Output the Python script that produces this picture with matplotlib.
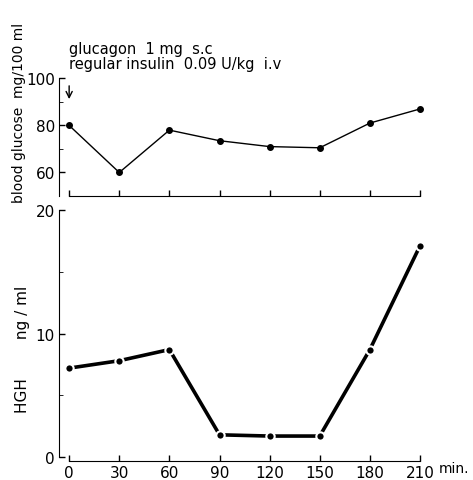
import matplotlib.pyplot as plt

minutes = [0, 30, 60, 90, 120, 150, 180, 210]
glucose = [80, 60, 78, 73.5, 71, 70.5, 81, 87]
hgh = [7.2, 7.8, 8.7, 1.8, 1.7, 1.7, 8.7, 17.1]

plt.rcParams['font.family'] = 'DejaVu Sans'
plt.rcParams['font.size'] = 11

fig = plt.figure(figsize=(4.73, 4.81), dpi=100)
ax1 = fig.add_axes([0.125, 0.5904, 0.77, 0.2495])
ax2 = fig.add_axes([0.125, 0.0395, 0.77, 0.5218])


def style(ax):
    for s in ('top', 'right'):
        ax.spines[s].set_visible(False)
    ax.spines['bottom'].set_bounds(0, 210)
    ax.set_xlim(-6, 212)
    ax.set_xticks(minutes)
    ax.tick_params(direction='in', length=4, width=1, pad=3)


# blood glucose
ax1.plot(minutes, glucose, color='black', lw=1, marker='o', ms=4)
style(ax1)
ax1.set_ylim(50, 101)
ax1.spines['left'].set_bounds(50, 100)
ax1.set_yticks([60, 80, 100])
ax1.set_yticks([70, 90], minor=True)
ax1.tick_params(axis='y', which='minor', direction='in', length=3)
ax1.set_xticklabels([])
ax1.set_ylabel('blood glucose  mg/100 ml', fontsize=10)
ax1.yaxis.set_label_coords(-0.09, 0.7)
ax1.annotate('', xy=(0, 90), xytext=(0, 98),
             arrowprops=dict(arrowstyle='->', color='black', lw=1),
             annotation_clip=False)
ax1.text(0, 112.5, 'glucagon  1 mg  s.c', fontsize=10.5, ha='left',
         va='center')
ax1.text(0, 106.3, 'regular insulin  0.09 U/kg  i.v', fontsize=10.5,
         ha='left', va='center')

# growth hormone
ax2.plot(minutes, hgh, color='black', lw=2.6, marker='o', ms=6,
         markeredgecolor='white', markeredgewidth=1.5,
         markerfacecolor='black')
style(ax2)
ax2.set_ylim(-0.32, 20)
ax2.spines['left'].set_bounds(0, 20)
ax2.set_yticks([0, 10, 20])
ax2.set_yticks([5, 15], minor=True)
ax2.tick_params(axis='y', which='minor', direction='in', length=3)
ax2.set_ylabel('HGH        ng / ml', fontsize=11)
ax2.yaxis.set_label_coords(-0.08, 0.45)
ax2.text(221, -0.32, 'min.', ha='left', va='top', fontsize=10)

fig.savefig('out.png', dpi=100)
